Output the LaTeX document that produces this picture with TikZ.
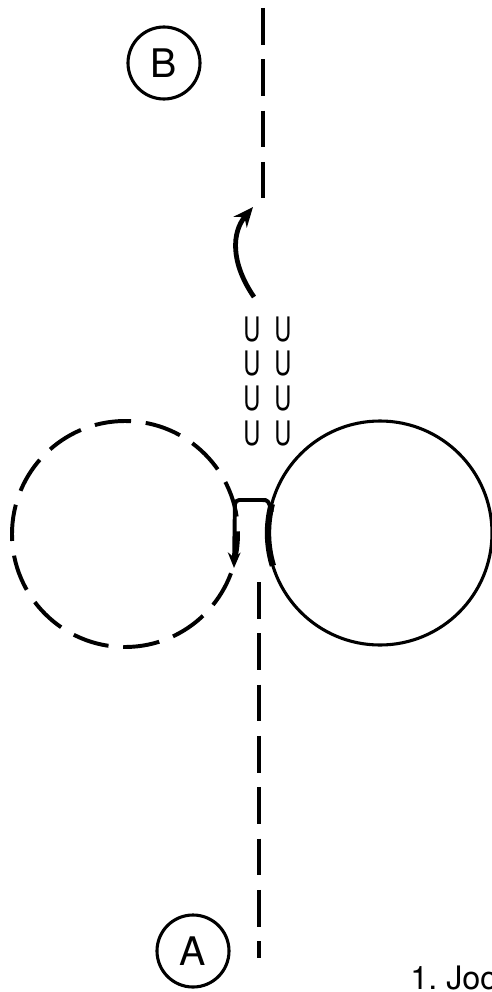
\documentclass[tikz,border=0pt]{standalone}
\usepackage{fontspec}
\setmainfont{TeX Gyre Heros}
\usetikzlibrary{arrows.meta}
\tikzset{
  dashline/.style={line width=2.8pt, dash pattern=on 26pt off 10.5pt},
  letter/.style={circle, draw, line width=2.2pt, minimum size=1.8cm, inner sep=0pt, font=\fontsize{28}{32}\selectfont},
  ushape/.style={inner sep=0pt, font=\fontsize{24}{28}\selectfont},
}
\begin{document}
\begin{tikzpicture}[x=0.025cm, y=-0.025cm]
\useasboundingbox (0,0) rectangle (492,992);

% Points
\node[letter] (B) at (164,63) {B};
\node[letter] (A) at (193,951) {A};

% Track, top
\coordinate (top0) at (263,8);
\coordinate (top1) at (263,198);
\draw[dashline] (top0) -- (top1);

% Track, bottom
\coordinate (bot0) at (259,582);
\coordinate (bot1) at (259,958);
\draw[dashline] (bot0) -- (bot1);

% Circles
\draw[dashline, dash phase=8pt] (125,534) circle[radius=113];
\draw[line width=2.2pt] (380,533) circle[radius=112];
\draw[line width=4.5pt] (380,533) ++(163:112) arc[start angle=163, end angle=195, radius=112];

% Hook at the junction
\draw[line width=2.8pt, rounded corners=3pt, -{Stealth[length=11pt, width=9pt]}]
  (272,512) .. controls (268,500) .. (258,500) -- (235,500) -- (234,568);

% Turn arrow
\draw[line width=3.4pt, -{Stealth[length=14pt, width=12pt]}]
  (254,297) .. controls (230,262) and (232,232) .. (253,207);

% U marks
\foreach \row/\yy in {1/329,2/363,3/398,4/433}
  \foreach \col/\xx in {1/252,2/283}
    \node[ushape] (u-\row-\col) at (\xx,\yy) {\scalebox{0.7}[1]{U}};

% Caption
\node[anchor=base west, inner sep=0pt, font=\fontsize{23}{28}\selectfont] (caption) at (410,989) {1.\ Joc};

\end{tikzpicture}
\end{document}
